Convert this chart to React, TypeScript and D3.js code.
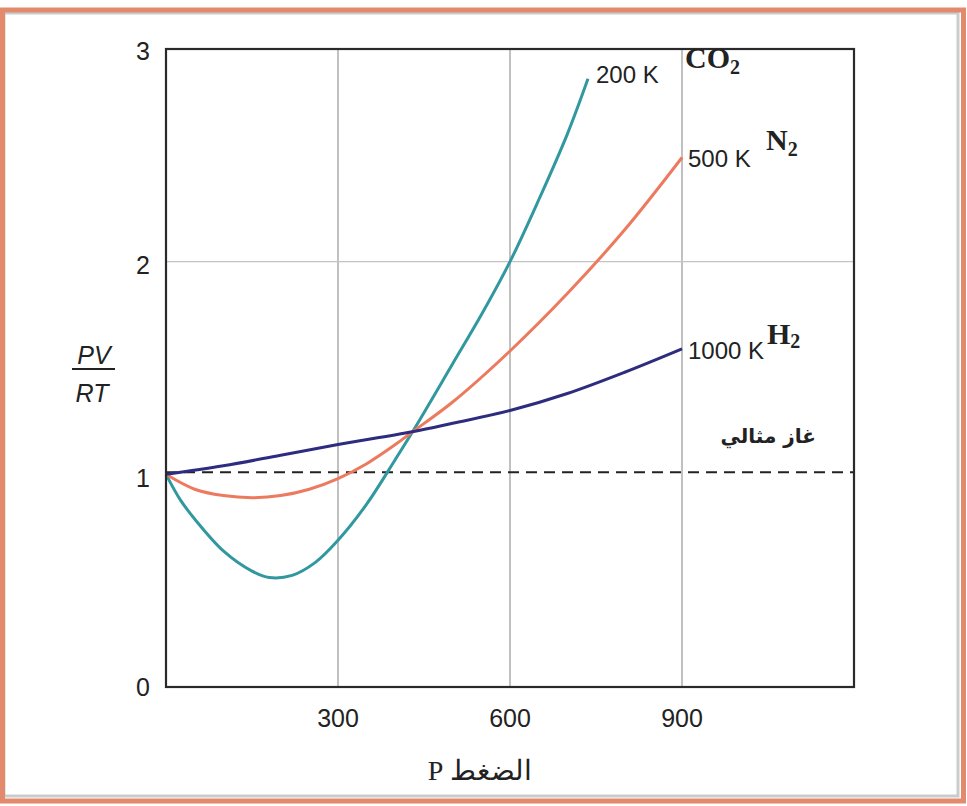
import React from "react";
import * as d3 from "d3";

// pressure values (atm) and PV/RT readings for each gas
const co2P = [0, 25, 50, 100, 150, 180, 220, 260, 300, 350, 400, 430, 500, 550, 600, 650, 700, 736];
const co2Z = [1.0, 0.88, 0.79, 0.64, 0.545, 0.515, 0.525, 0.585, 0.69, 0.86, 1.07, 1.2, 1.52, 1.75, 2.0, 2.29, 2.6, 2.86];

const n2P = [0, 50, 100, 150, 200, 250, 300, 350, 400, 430, 500, 600, 700, 800, 900];
const n2Z = [1.0, 0.93, 0.9, 0.89, 0.9, 0.93, 0.98, 1.05, 1.14, 1.2, 1.34, 1.58, 1.85, 2.15, 2.49];

const h2P = [0, 100, 200, 300, 430, 500, 600, 700, 800, 900];
const h2Z = [1.0, 1.04, 1.09, 1.14, 1.2, 1.24, 1.3, 1.38, 1.48, 1.59];

const idealZ = 1.01;

const xTicks = [300, 600, 900];
const yTicks = [0, 1, 2, 3];

const series = [
  { name: "CO2", P: co2P, Z: co2Z, color: "#3198a0", temp: "200 K", gas: "CO", sub: "2" },
  { name: "N2", P: n2P, Z: n2Z, color: "#ec7a5f", temp: "500 K", gas: "N", sub: "2" },
  { name: "H2", P: h2P, Z: h2Z, color: "#2e2c7e", temp: "1000 K", gas: "H", sub: "2" },
];

const W = 967;
const H = 806;
const plot = { left: 166, right: 854, top: 49, bottom: 687 };

export default function App() {
  const x = d3.scaleLinear().domain([0, 1200]).range([plot.left, plot.right]);
  const y = d3.scaleLinear().domain([0, 3]).range([plot.bottom, plot.top]);

  const line = d3
    .line<[number, number]>()
    .x((d) => x(d[0]))
    .y((d) => y(d[1]))
    .curve(d3.curveCatmullRom.alpha(0.5));

  const sans = "'Liberation Sans', Arial, sans-serif";
  const serif = "'Liberation Serif', 'DejaVu Serif', serif";

  // label anchor points (data coords)
  const co2End: [number, number] = [co2P[co2P.length - 1], co2Z[co2Z.length - 1]];
  const n2End: [number, number] = [n2P[n2P.length - 1], n2Z[n2Z.length - 1]];
  const h2End: [number, number] = [h2P[h2P.length - 1], h2Z[h2Z.length - 1]];

  return (
    <svg
      width={W}
      height={H}
      style={{ position: "absolute", left: 0, top: 0, background: "#fff" }}
    >
      {/* outer frame */}
      <rect x={0} y={0} width={W} height={H} fill="#fff" />
      <rect x={4} y={13} width={954} height={783} fill="none" stroke="#c9cccd" strokeWidth={3} />
      <rect x={2.5} y={10} width={961} height={791} fill="none" stroke="#e48a6c" strokeWidth={5} />

      {/* grid */}
      {xTicks.map((t) => (
        <line key={"gx" + t} x1={x(t)} x2={x(t)} y1={plot.top} y2={plot.bottom} stroke="#adadad" strokeWidth={1.5} />
      ))}
      <line x1={plot.left} x2={plot.right} y1={y(2)} y2={y(2)} stroke="#c4c4c4" strokeWidth={1.2} />

      {/* ideal gas */}
      <line
        x1={plot.left}
        x2={plot.right}
        y1={y(idealZ)}
        y2={y(idealZ)}
        stroke="#222"
        strokeWidth={2}
        strokeDasharray="11 7"
      />

      {/* curves */}
      {series.map((s) => (
        <path
          key={s.name}
          d={line(s.P.map((p, i) => [p, s.Z[i]] as [number, number])) || ""}
          fill="none"
          stroke={s.color}
          strokeWidth={3}
        />
      ))}

      {/* plot box */}
      <rect
        x={plot.left}
        y={plot.top}
        width={plot.right - plot.left}
        height={plot.bottom - plot.top}
        fill="none"
        stroke="#2a2a2a"
        strokeWidth={2.2}
      />

      {/* y ticks */}
      {yTicks.map((t) => (
        <text
          key={"yt" + t}
          x={plot.left - 16}
          y={y(t) + (t === 3 ? 4 : t === 0 ? 2 : 6)}
          textAnchor="end"
          dominantBaseline="middle"
          fontFamily={sans}
          fontSize={25}
          fill="#222"
        >
          {t}
        </text>
      ))}

      {/* x ticks */}
      {xTicks.map((t) => (
        <text
          key={"xt" + t}
          x={x(t)}
          y={plot.bottom + 40}
          textAnchor="middle"
          fontFamily={sans}
          fontSize={25}
          fill="#222"
        >
          {t}
        </text>
      ))}

      {/* y label PV/RT */}
      <g fontFamily={sans} fontStyle="italic" fontSize={25} fill="#222">
        <text x={94} y={364} textAnchor="middle">PV</text>
        <line x1={72} x2={115} y1={369} y2={369} stroke="#222" strokeWidth={2} />
        <text x={92} y={402} textAnchor="middle">RT</text>
      </g>

      {/* x label */}
      <text
        x={480}
        y={780}
        textAnchor="middle"
        direction="rtl"
        fontFamily={serif}
        fontSize={28}
        fill="#222"
      >
        الضغط P
      </text>

      {/* series labels */}
      <text x={x(co2End[0]) + 8} y={y(co2End[1]) + 4} fontFamily={sans} fontSize={24} fill="#222">
        {series[0].temp}
      </text>
      <text x={685} y={68} fontFamily={serif} fontWeight="bold" fontSize={30} fill="#222">
        {series[0].gas}
        <tspan fontSize={20} dy={6}>{series[0].sub}</tspan>
      </text>

      <text x={x(n2End[0]) + 6} y={y(n2End[1]) + 10} fontFamily={sans} fontSize={24} fill="#222">
        {series[1].temp}
      </text>
      <text x={766} y={150} fontFamily={serif} fontWeight="bold" fontSize={30} fill="#222">
        {series[1].gas}
        <tspan fontSize={20} dy={6}>{series[1].sub}</tspan>
      </text>

      <text x={x(h2End[0]) + 6} y={y(h2End[1]) + 10} fontFamily={sans} fontSize={24} fill="#222">
        {series[2].temp}
      </text>
      <text x={767} y={344} fontFamily={serif} fontWeight="bold" fontSize={30} fill="#222">
        {series[2].gas}
        <tspan fontSize={20} dy={4}>{series[2].sub}</tspan>
      </text>

      <text
        x={816}
        y={443}
        textAnchor="start"
        direction="rtl"
        fontFamily="'DejaVu Sans', sans-serif"
        fontWeight="bold"
        fontSize={20}
        fill="#222"
      >
        غاز مثالي
      </text>
    </svg>
  );
}
